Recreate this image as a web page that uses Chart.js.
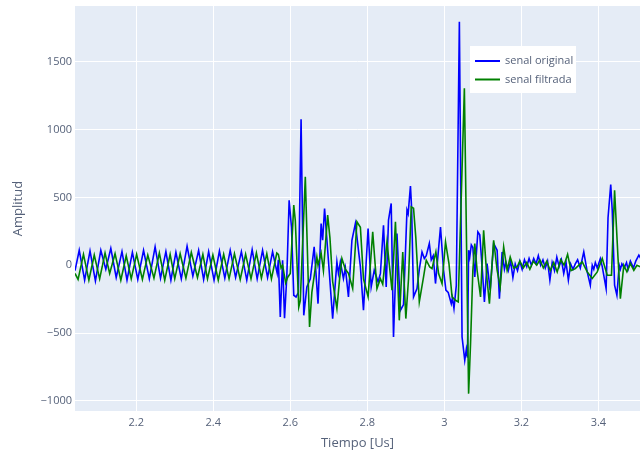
<!DOCTYPE html>
<html>
<head>
<meta charset="utf-8">
<script src="https://cdn.jsdelivr.net/npm/chart.js@4/dist/chart.umd.min.js"></script>
<style>
    html, body { margin: 0; padding: 0; background: #ffffff; }
    #wrap { width: 644px; height: 459px; }
</style>
</head>
<body>
<div id="wrap"><canvas id="signal-chart" width="644" height="459"></canvas></div>
<script>
// senal original (azul)
const timeOriginal = [
    2.041, 2.052, 2.066, 2.080, 2.094, 2.108, 2.121, 2.134, 2.148, 2.163,
    2.176, 2.190, 2.204, 2.219, 2.234, 2.249, 2.263, 2.277, 2.290, 2.303,
    2.317, 2.332, 2.347, 2.362, 2.375, 2.388, 2.402, 2.416, 2.430, 2.444,
    2.458, 2.473, 2.487, 2.501, 2.514, 2.528, 2.541, 2.554, 2.566, 2.569,
    2.574, 2.580, 2.585, 2.591, 2.597, 2.603, 2.609, 2.615, 2.621, 2.628,
    2.635, 2.643, 2.652, 2.662, 2.672, 2.680, 2.684, 2.689, 2.699, 2.710,
    2.721, 2.725, 2.730, 2.738, 2.743, 2.751, 2.760, 2.769, 2.782, 2.790,
    2.802, 2.810, 2.818, 2.828, 2.834, 2.842, 2.849, 2.855, 2.862, 2.868,
    2.877, 2.886, 2.894, 2.903, 2.906, 2.912, 2.915, 2.920, 2.929, 2.935,
    2.942, 2.948, 2.953, 2.961, 2.966, 2.971, 2.977, 2.990, 2.998, 3.004,
    3.010, 3.018, 3.021, 3.025, 3.031, 3.039, 3.046, 3.053, 3.057, 3.060,
    3.063, 3.066, 3.070, 3.074, 3.079, 3.087, 3.092, 3.099, 3.104, 3.111,
    3.119, 3.128, 3.137, 3.143, 3.150, 3.156, 3.160, 3.166, 3.172, 3.178,
    3.184, 3.190, 3.196, 3.202, 3.208, 3.214, 3.220, 3.226, 3.232, 3.238,
    3.244, 3.250, 3.256, 3.262, 3.268, 3.274, 3.280, 3.286, 3.292, 3.298,
    3.304, 3.310, 3.316, 3.322, 3.328, 3.334, 3.340, 3.346, 3.353, 3.362,
    3.371, 3.379, 3.384, 3.388, 3.392, 3.397, 3.405, 3.410, 3.420, 3.425,
    3.432, 3.436, 3.442, 3.448, 3.454, 3.457, 3.461, 3.467, 3.473, 3.477,
    3.483, 3.491, 3.497, 3.505, 3.512
];
const ampOriginal = [
    -40, 110, -110, 105, -115, 110, -30, 125, -90, 100,
    -110, 95, -105, 110, -100, 135, -95, 100, -110, 95,
    -100, 140, -80, 110, -105, 100, -110, 105, -95, 110,
    -90, 100, -110, 115, -100, 110, -90, 100, -60, 40,
    -381, 37, -391, -80, 479, 282, -221, -234, -200, 1075,
    -369, -160, -100, 135, -283, 307, 184, 418, 37, -393,
    25, -60, 25, -98, -20, -233, 184, 307, -12, -332,
    271, -160, -37, -123, -60, 295, -160, 332, 455, -529,
    234, -332, -290, 406, 380, 583, 420, -233, -172, -30,
    98, 50, 70, 160, 40, 70, -135, 282, -37, -184,
    -200, -283, -240, -319, -150, 1794, -529, -700, -620, -680,
    111, 60, 150, 130, -86, 246, 224, -50, -270, 12,
    -184, 160, 110, -246, 98, -30, 20, -40, 30, -90,
    10, -40, 30, -30, 40, -10, 50, 0, 50, 10,
    70, 0, 40, -20, 30, -110, 20, -40, 60, -10,
    40, -60, 20, -110, 10, -30, 10, 40, -20, 98,
    -49, -147, 0, -30, 20, -20, 49, -10, -172, 350,
    595, 400, -147, -221, 0, -30, 10, -20, 20, -30,
    30, -20, 30, 74, 40
];

// senal filtrada (verde)
const timeFiltered = [
    2.041, 2.049, 2.063, 2.077, 2.091, 2.105, 2.119, 2.131, 2.145, 2.160,
    2.174, 2.187, 2.201, 2.216, 2.230, 2.246, 2.260, 2.274, 2.288, 2.300,
    2.314, 2.329, 2.343, 2.359, 2.373, 2.385, 2.399, 2.413, 2.427, 2.441,
    2.455, 2.470, 2.484, 2.498, 2.512, 2.525, 2.539, 2.551, 2.565, 2.569,
    2.576, 2.580, 2.588, 2.593, 2.600, 2.609, 2.613, 2.622, 2.626, 2.639,
    2.650, 2.656, 2.669, 2.672, 2.680, 2.686, 2.697, 2.703, 2.710, 2.721,
    2.728, 2.734, 2.743, 2.751, 2.762, 2.773, 2.782, 2.790, 2.802, 2.814,
    2.825, 2.834, 2.840, 2.851, 2.864, 2.873, 2.883, 2.892, 2.900, 2.907,
    2.914, 2.920, 2.926, 2.935, 2.946, 2.953, 2.962, 2.968, 2.978, 2.985,
    2.994, 3.003, 3.012, 3.020, 3.029, 3.036, 3.052, 3.063, 3.068, 3.074,
    3.079, 3.085, 3.094, 3.102, 3.111, 3.117, 3.128, 3.137, 3.145, 3.154,
    3.163, 3.171, 3.180, 3.189, 3.196, 3.205, 3.214, 3.222, 3.231, 3.240,
    3.248, 3.257, 3.266, 3.275, 3.284, 3.293, 3.302, 3.311, 3.320, 3.329,
    3.340, 3.358, 3.371, 3.384, 3.397, 3.410, 3.423, 3.434, 3.442, 3.451,
    3.457, 3.466, 3.474, 3.483, 3.492, 3.500, 3.509
];
const ampFiltered = [
    -60, -105, 80, -110, 75, -100, 90, -60, 85, -110,
    70, -100, 80, -105, 75, -95, 90, -110, 80, -100,
    85, -95, 95, -90, 80, -100, 75, -110, 80, -100,
    85, -105, 80, -100, 90, -95, 85, -100, 90, 80,
    -20, 0, -130, -90, -60, 443, 330, -307, -260, 651,
    -455, -200, 61, 0, 90, -40, 369, 200, -120, -319,
    -100, 49, -30, -60, -172, 320, 280, -100, -233, 246,
    -172, -100, -140, 172, -184, 320, -406, 98, -393, -100,
    430, 420, 200, -270, -86, 37, -12, -25, 98, -61,
    -135, 172, 12, -233, -258, -270, 1303, -946, -578, -37,
    160, -37, -233, 258, -111, -283, 184, -37, -160, 135,
    -37, 60, -20, -12, 30, -20, 20, -30, 30, 0,
    40, -20, 30, -40, 20, -50, 40, 0, 80, -40,
    -25, 25, -49, -98, -49, 49, -74, -74, 553, 49,
    -246, 0, -49, 12, -37, 0, -12
];

const xTickValues = [2.2, 2.4, 2.6, 2.8, 3.0, 3.2, 3.4];
const xTickLabels = ['2.2', '2.4', '2.6', '2.8', '3', '3.2', '3.4'];
const yTickValues = [-1000, -500, 0, 500, 1000, 1500];
const yTickLabels = ['\u22121000', '\u2212500', '0', '500', '1000', '1500'];

const xRange = [2.041, 3.508];
const yRange = [-1074, 1910];

const textColor = '#56627a';

Chart.defaults.font.family = '"Open Sans", sans-serif';
Chart.defaults.font.size = 11;
Chart.defaults.color = textColor;

function toPoints(times, values) {
    return times.map((t, i) => ({ x: t, y: values[i] }));
}

const plotBackground = {
    id: 'plotBackground',
    beforeDraw(chart) {
        const { ctx, chartArea } = chart;
        ctx.save();
        ctx.fillStyle = '#e5ecf6';
        ctx.fillRect(chartArea.left, chartArea.top, chartArea.right - chartArea.left, chartArea.bottom - chartArea.top);
        ctx.restore();
    }
};

// leyenda dentro del area, como en plotly
const insideLegend = {
    id: 'insideLegend',
    afterDraw(chart) {
        const ctx = chart.ctx;
        ctx.save();
        ctx.fillStyle = '#ffffff';
        ctx.fillRect(470, 46, 106, 47);
        ctx.font = '11px "Open Sans", sans-serif';
        ctx.textBaseline = 'middle';
        chart.data.datasets.forEach((ds, i) => {
            const y = 61 + i * 18.5;
            ctx.strokeStyle = ds.borderColor;
            ctx.lineWidth = 2;
            ctx.beginPath();
            ctx.moveTo(475, y);
            ctx.lineTo(500, y);
            ctx.stroke();
            ctx.fillStyle = textColor;
            ctx.fillText(ds.label, 505, y);
        });
        ctx.restore();
    }
};

function noEdgePadding(scale) {
    scale.paddingTop = 0;
    scale.paddingBottom = 0;
    scale.paddingLeft = 0;
    scale.paddingRight = 0;
}

const ctx = document.getElementById('signal-chart').getContext('2d');
new Chart(ctx, {
    type: 'line',
    data: {
        datasets: [{
            label: 'senal original',
            data: toPoints(timeOriginal, ampOriginal),
            borderColor: '#0000ff',
            borderWidth: 1.6,
            pointRadius: 0,
            tension: 0,
            order: 2
        }, {
            label: 'senal filtrada',
            data: toPoints(timeFiltered, ampFiltered),
            borderColor: '#008000',
            borderWidth: 1.6,
            pointRadius: 0,
            tension: 0,
            order: 1
        }]
    },
    options: {
        responsive: false,
        animation: false,
        events: [],
        layout: { padding: { top: 6, right: 4, left: 0, bottom: 0 } },
        plugins: {
            legend: { display: false },
            tooltip: { enabled: false }
        },
        scales: {
            x: {
                type: 'linear',
                min: xRange[0],
                max: xRange[1],
                afterBuildTicks: scale => { scale.ticks = xTickValues.map(v => ({ value: v })); },
                afterFit: scale => { scale.height = 48; noEdgePadding(scale); },
                ticks: {
                    callback: value => xTickLabels[xTickValues.indexOf(value)],
                    padding: 5,
                    maxRotation: 0,
                    autoSkip: false
                },
                grid: { color: '#ffffff', lineWidth: 1, drawTicks: false },
                border: { display: false },
                title: {
                    display: true,
                    text: 'Tiempo [Us]',
                    font: { size: 13 },
                    padding: { top: 0, bottom: 8 }
                }
            },
            y: {
                type: 'linear',
                min: yRange[0],
                max: yRange[1],
                afterBuildTicks: scale => { scale.ticks = yTickValues.map(v => ({ value: v })); },
                afterFit: scale => { scale.width = 75; noEdgePadding(scale); },
                ticks: {
                    callback: value => yTickLabels[yTickValues.indexOf(value)],
                    padding: 3
                },
                grid: {
                    color: '#ffffff',
                    lineWidth: c => (c.tick && c.tick.value === 0 ? 2 : 1),
                    drawTicks: false
                },
                border: { display: false },
                title: {
                    display: true,
                    text: 'Amplitud',
                    font: { size: 13 },
                    padding: { top: 10, bottom: 0 }
                }
            }
        }
    },
    plugins: [plotBackground, insideLegend]
});
</script>
</body>
</html>
